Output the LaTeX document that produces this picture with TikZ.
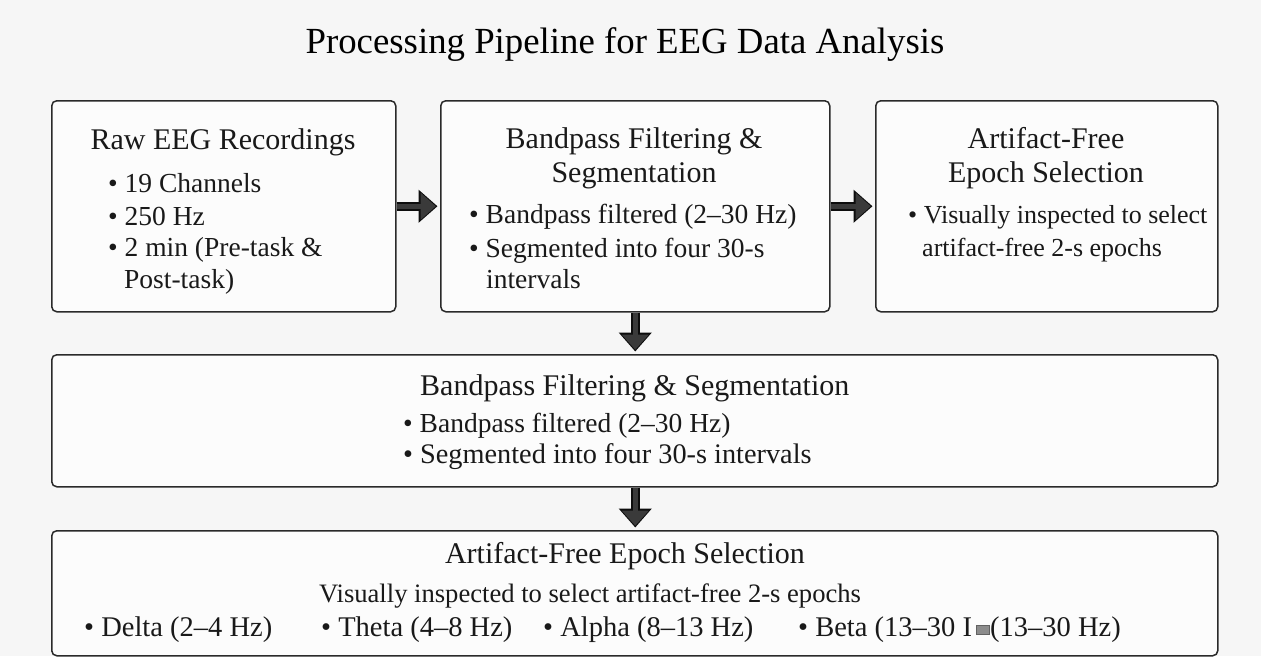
\documentclass[tikz,border=0pt]{standalone}
\usepackage{fontspec}
\setmainfont{Liberation Serif}
\usetikzlibrary{arrows.meta}
\definecolor{bgc}{HTML}{F6F6F6}
\definecolor{boxfill}{HTML}{FCFCFC}
\definecolor{boxline}{HTML}{2A2A2A}
\definecolor{arrowc}{HTML}{3A3A3A}
\definecolor{glitch}{HTML}{8C8C8C}
\newcommand\ttlfnt{\fontsize{36.8}{44}\selectfont}
\newcommand\hfnt{\fontsize{30}{36}\selectfont}
\newcommand\tfnt{\fontsize{27.5}{33}\selectfont}
\newcommand\fsz[1]{\fontsize{#1}{#1}\selectfont}
\tikzset{
  box/.style={draw=boxline, line width=1.5pt, rounded corners=5pt, fill=boxfill, anchor=north west, inner sep=0pt},
  head/.style={font=\hfnt, anchor=base, inner sep=0pt, text=black!90},
  txt/.style={font=\tfnt, anchor=base west, inner sep=0pt, text=black!90},
  ctxt/.style={font=\tfnt, anchor=base, inner sep=0pt, text=black!90},
  flowout/.style={draw=black!95, line width=9pt, -{Triangle[length=19pt,width=32pt]}, shorten >=2.5pt},
  flowin/.style={draw=arrowc, line width=5.5pt, -{Triangle[length=15pt,width=26pt]}, shorten >=4.3pt, shorten <=0.8pt}
}
\begin{document}
\begin{tikzpicture}[x=1pt,y=-1pt]
\useasboundingbox (0,0) rectangle (1261,656);
\fill[bgc] (0,0) rectangle (1261,656);

% title
\node[font=\ttlfnt, anchor=base, inner sep=0pt] (title) at (625,53) {Processing Pipeline for EEG Data Analysis};

% boxes
\node[box, minimum width=344pt, minimum height=211pt] (b1) at (51,100) {};
\node[box, minimum width=389pt, minimum height=211pt] (b2) at (440,100) {};
\node[box, minimum width=342pt, minimum height=211pt] (b3) at (875,100) {};
\node[box, minimum width=1166pt, minimum height=132pt] (b4) at (51,354) {};
\node[box, minimum width=1166pt, minimum height=125pt] (b5) at (51,530) {};

% box 1
\node[head] (h1) at (223,149) {Raw EEG Recordings};
\node[txt] (t11) at (108,192) {• 19 Channels};
\node[txt] (t12) at (108,225) {• 250 Hz};
\node[txt] (t13) at (108,256) {• 2 min (Pre-task \&};
\node[txt] (t14) at (124,288) {Post-task)};

% box 2
\node[head] (h2a) at (634,148) {Bandpass Filtering \&};
\node[head] (h2b) at (634,182) {Segmentation};
\node[txt] (t21) at (469,223) {• Bandpass filtered (2–30 Hz)};
\node[txt] (t22) at (469,257) {• Segmented into four 30-s};
\node[txt] (t23) at (486,288) {intervals};

% box 3
\node[head] (h3a) at (1046,148) {Artifact-Free};
\node[head] (h3b) at (1046,182) {Epoch Selection};
\node[txt, font=\fsz{26}] (t31) at (908,223) {• Visually inspected to select};
\node[txt, font=\fsz{26}] (t32) at (922,256) {artifact-free 2-s epochs};

% box 4
\node[head, anchor=base west] (h4) at (420,395) {Bandpass Filtering \& Segmentation};
\node[txt] (t41) at (403,432) {• Bandpass filtered (2–30 Hz)};
\node[txt, font=\fsz{28.3}] (t42) at (403,463) {• Segmented into four 30-s intervals};

% box 5
\node[head] (h5) at (625,563) {Artifact-Free Epoch Selection};
\node[ctxt, font=\fsz{26.6}] (t50) at (590,602) {Visually inspected to select artifact-free 2-s epochs};
\node[txt, font=\fsz{28.5}] (t51) at (84,636) {• Delta (2–4 Hz)};
\node[txt, font=\fsz{28.5}] (t52) at (321,636) {• Theta (4–8 Hz)};
\node[txt, font=\fsz{28.5}] (t53) at (543,636) {• Alpha (8–13 Hz)};
\node[txt, font=\fsz{28.5}] (t54) at (798,636) {• Beta (13–30 I};
\node[draw=glitch!70!black, fill=glitch, line width=0.6pt, minimum width=13pt, minimum height=9pt, inner sep=0pt, anchor=south west] (g5) at (976,635) {};
\node[txt, font=\fsz{28.5}] (t55) at (990,636) {(13–30 Hz)};

% connectors
\draw[flowout] (b1.east) -- (b2.west);
\draw[flowin] (b1.east) -- (b2.west);
\draw[flowout] (b2.east) -- (b3.west);
\draw[flowin] (b2.east) -- (b3.west);
\draw[flowout] (b2.south) -- (b4.north -| b2.south);
\draw[flowin] (b2.south) -- (b4.north -| b2.south);
\draw[flowout] (b4.south -| b2.south) -- (b5.north -| b2.south);
\draw[flowin] (b4.south -| b2.south) -- (b5.north -| b2.south);
\end{tikzpicture}
\end{document}
